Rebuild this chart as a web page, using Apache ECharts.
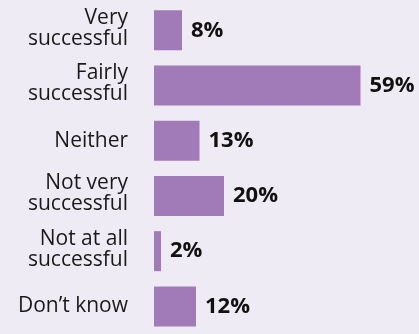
<!DOCTYPE html>
<html><head><meta charset="utf-8">
<script src="https://cdn.jsdelivr.net/npm/echarts@6/dist/echarts.min.js"></script>
<style>html,body{margin:0;padding:0;background:#efebf5;}#c{width:419px;height:334px;}</style>
</head><body><div id="c"></div>
<script>
const categories = ["Very\nsuccessful", "Fairly\nsuccessful", "Neither", "Not very\nsuccessful", "Not at all\nsuccessful", "Don\u2019t know"];
const values = [8, 59, 13, 20, 2, 12];
const chart = echarts.init(document.getElementById('c'), null, {renderer: 'canvas'});
const txt = {fontFamily: 'Open Sans', fontSize: 21, lineHeight: 21, color: '#1a1a1a', align: 'right'};
chart.setOption({
  backgroundColor: '#efebf5',
  animation: false,
  grid: {left: 154, top: 2.65, width: 245, height: 340, containLabel: false},
  xAxis: {type: 'value', min: 0, max: 70, show: false},
  yAxis: {
    type: 'category', data: categories, inverse: true,
    axisLine: {show: false}, axisTick: {show: false}, splitLine: {show: false},
    axisLabel: {
      margin: 26, fontFamily: 'Open Sans', fontSize: 21, lineHeight: 21, color: '#1a1a1a', align: 'right',
      formatter: function (v) {
        if (v.indexOf('\n') >= 0) {
          return v.split('\n').map(function (s) { return '{m|' + s + '}'; }).join('\n') + '\n{p|}';
        }
        return '{s|' + v + '}';
      },
      rich: {m: txt, s: txt, p: {fontSize: 4, lineHeight: 4}}
    }
  },
  series: [{
    type: 'bar', data: values, barWidth: 40,
    itemStyle: {color: '#a17bb7'},
    label: {show: true, position: 'right', distance: 9, formatter: '{c}%', fontFamily: 'Open Sans', fontWeight: 'bold', fontSize: 22, color: '#111'}
  }]
});
</script></body></html>
